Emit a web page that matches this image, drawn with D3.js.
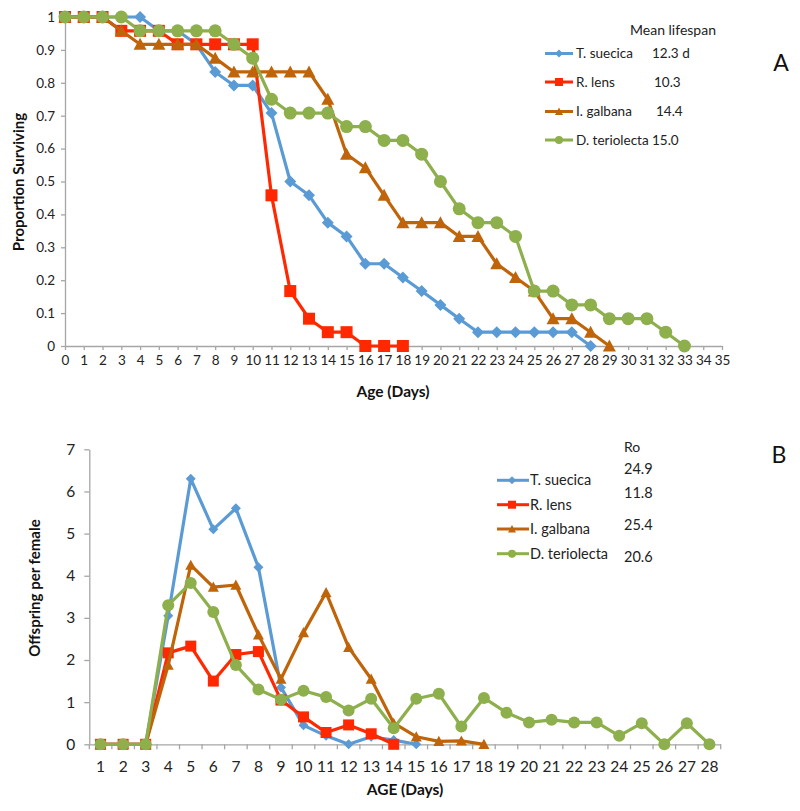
<!DOCTYPE html>
<html><head><meta charset="utf-8">
<script src="https://cdn.jsdelivr.net/npm/d3@7"></script>
<style>body{margin:0;background:#fff}svg{display:block;font-family:Lato,"Open Sans",sans-serif}</style>
</head><body>
<svg id="c" width="800" height="811"></svg>
<script>
// ---------- DATA ----------
const speciesNames = ["T. suecica", "R. lens", "I. galbana", "D. teriolecta"];
const meanLifespan = ["12.3 d", "10.3", "14.4", "15.0"];
const roValues = ["24.9", "11.8", "25.4", "20.6"];
const xTicksA = [0,1,2,3,4,5,6,7,8,9,10,11,12,13,14,15,16,17,18,19,20,21,22,23,24,25,26,27,28,29,30,31,32,33,34,35];
const yTicksA = [0,0.1,0.2,0.3,0.4,0.5,0.6,0.7,0.8,0.9,1];
const yTickLabelsA = ["0","0.1","0.2","0.3","0.4","0.5","0.6","0.7","0.8","0.9","1"];
// Survival (panel A), value for day 0,1,2,...
const survTsuecica = [1,1,1,1,1,0.958,0.958,0.917,0.833,0.792,0.792,0.708,0.5,0.458,0.375,0.333,0.25,0.25,0.208,0.167,0.125,0.083,0.042,0.042,0.042,0.042,0.042,0.042,0];
const survRlens = [1,1,1,0.958,0.958,0.958,0.917,0.917,0.917,0.917,0.917,0.458,0.167,0.083,0.042,0.042,0,0,0];
const survIgalbana = [1,1,1,0.958,0.917,0.917,0.917,0.917,0.875,0.833,0.833,0.833,0.833,0.833,0.75,0.583,0.542,0.458,0.375,0.375,0.375,0.333,0.333,0.25,0.208,0.167,0.083,0.083,0.042,0];
const survDteriolecta = [1,1,1,1,0.958,0.958,0.958,0.958,0.958,0.917,0.875,0.75,0.708,0.708,0.708,0.667,0.667,0.625,0.625,0.583,0.5,0.417,0.375,0.375,0.333,0.167,0.167,0.125,0.125,0.083,0.083,0.083,0.042,0];
// Fecundity (panel B), value for day 1,2,3,...
const daysB = ["1","2","3","4","5","6","7","8","9","10","11","12","13","14","15","16","17","18","19","20","21","22","23","24","25","26","27","28"];
const yTicksB = [0,1,2,3,4,5,6,7];
const offTsuecica = [0,0,0,3.05,6.3,5.1,5.6,4.2,1.35,0.45,0.2,0,0.18,0.1,0];
const offRlens = [0,0,0,2.17,2.33,1.5,2.13,2.2,1.05,0.65,0.28,0.46,0.25,0];
const offIgalbana = [0,0,0,1.88,4.25,3.73,3.78,2.6,1.55,2.65,3.6,2.3,1.55,0.5,0.18,0.07,0.08,0];
const offDteriolecta = [0,0,0,3.3,3.83,3.14,1.88,1.3,1.06,1.27,1.12,0.8,1.08,0.38,1.08,1.2,0.42,1.1,0.75,0.52,0.58,0.52,0.52,0.2,0.5,0,0.5,0];

// ---------- STYLE ----------
const colors = ["#5B9BD5", "#FF2800", "#C0640A", "#8DAF4C"];
const shapes = ["diamond", "square", "triangle", "circle"];
const axisColor = "#A6A6A6";
const svg = d3.select("#c");

function markerPath(shape, s) {
  const h = s / 2;
  if (shape === "diamond") return `M0,${-h}L${h},0L0,${h}L${-h},0Z`;
  if (shape === "square") return `M${-h},${-h}H${h}V${h}H${-h}Z`;
  if (shape === "triangle") return `M0,${-h}L${h},${h*0.85}L${-h},${h*0.85}Z`;
  return d3.symbol(d3.symbolCircle, Math.PI * h * h)();
}
const markerSizeA = [12, 12, 13, 13];
const markerSizeB = [10, 11, 11, 12];

function drawSeries(g, pts, i, sizes) {
  g.append("path").datum(pts)
    .attr("fill", "none").attr("stroke", colors[i]).attr("stroke-width", 3.2)
    .attr("stroke-linejoin", "round")
    .attr("d", d3.line().x(d => d[0]).y(d => d[1]));
  g.selectAll(null).data(pts).enter().append("path")
    .attr("transform", d => `translate(${d[0]},${d[1]})`)
    .attr("d", markerPath(shapes[i], sizes[i]))
    .attr("fill", colors[i]);
}

// ---------- PANEL A ----------
const xA = d3.scaleLinear().domain([0, 35]).range([65, 722]);
const yA = d3.scaleLinear().domain([0, 1]).range([346, 17]);
const gA = svg.append("g");
const axA = gA.append("g").attr("transform", "translate(0,346)")
  .call(d3.axisBottom(xA).tickValues(xTicksA).tickFormat(d3.format("d")).tickSize(4).tickSizeOuter(0));
const ayA = gA.append("g").attr("transform", "translate(65,0)")
  .call(d3.axisLeft(yA).tickValues(yTicksA).tickFormat((d, i) => yTickLabelsA[i]).tickSize(4).tickSizeOuter(0));
[axA, ayA].forEach(a => {
  a.selectAll("path,line").attr("stroke", axisColor).attr("stroke-width", 1.3);
  a.selectAll("text").attr("fill", "#222").attr("font-family", "Lato");
});
axA.selectAll("text").attr("font-size", 13.5).attr("dy", "0.95em").attr("y", 6);
ayA.selectAll("text").attr("font-size", 13.5).attr("x", -10);

const survSeries = [survTsuecica, survRlens, survIgalbana, survDteriolecta];
survSeries.forEach((s, i) => {
  drawSeries(gA.append("g"), s.map((v, d) => [xA(d), yA(v)]), i, markerSizeA);
});

gA.append("text").attr("x", 393).attr("y", 397).attr("text-anchor", "middle")
  .attr("font-weight", "bold").attr("font-size", 15.5).attr("fill", "#111").text("Age (Days)");
gA.append("text").attr("transform", "translate(24,182) rotate(-90)").attr("text-anchor", "middle")
  .attr("font-weight", "bold").attr("font-size", 15).attr("fill", "#111").text("Proportion Surviving");

// Legend A
gA.append("text").attr("x", 673).attr("y", 35).attr("text-anchor", "middle")
  .attr("font-size", 14).attr("fill", "#222").text("Mean lifespan");
const rowYA = [53.5, 82, 111.5, 140];
const valXA = [652, 654, 656, 652];
speciesNames.forEach((n, i) => {
  const y = rowYA[i];
  gA.append("line").attr("x1", 545).attr("x2", 573).attr("y1", y).attr("y2", y)
    .attr("stroke", colors[i]).attr("stroke-width", 3);
  gA.append("path").attr("transform", `translate(559,${y})`).attr("d", markerPath(shapes[i], 8)).attr("fill", colors[i]);
  gA.append("text").attr("x", 576).attr("y", y + 4.5).attr("font-size", 13.5).attr("fill", "#222").text(n);
  gA.append("text").attr("x", valXA[i]).attr("y", y + 4.5).attr("font-size", 13.5).attr("fill", "#222").text(meanLifespan[i]);
});
gA.append("text").attr("x", 781).attr("y", 71).attr("text-anchor", "middle").attr("font-size", 23).attr("fill", "#111").text("A");

// ---------- PANEL B ----------
const xB = d3.scaleBand().domain(daysB).range([89.3, 720.7]);
const yB = d3.scaleLinear().domain([0, 7]).range([744.3, 449.3]);
const gB = svg.append("g");
const axB = gB.append("g").attr("transform", "translate(0,744.3)")
  .call(d3.axisBottom(xB).tickSize(0).tickSizeOuter(0));
axB.selectAll("line.bnd").data(d3.range(daysB.length + 1)).enter().append("line").attr("class", "bnd")
  .attr("x1", k => 89.3 + k * xB.step()).attr("x2", k => 89.3 + k * xB.step()).attr("y1", 0).attr("y2", 5);
const ayB = gB.append("g").attr("transform", "translate(89.3,0)")
  .call(d3.axisLeft(yB).tickValues(yTicksB).tickFormat(d3.format("d")).tickSize(5).tickSizeOuter(0));
[axB, ayB].forEach(a => {
  a.selectAll("path,line").attr("stroke", axisColor).attr("stroke-width", 1.3);
  a.selectAll("text").attr("fill", "#222").attr("font-family", "Lato").attr("font-size", 15.5);
});
axB.selectAll("text").attr("y", 17).attr("dy", "0.71em");
ayB.selectAll("text").attr("x", -14);

const offSeries = [offTsuecica, offRlens, offIgalbana, offDteriolecta];
offSeries.forEach((s, i) => {
  drawSeries(gB.append("g"), s.map((v, k) => [xB(daysB[k]) + xB.bandwidth() / 2, yB(v)]), i, markerSizeB);
});

gB.append("text").attr("x", 405).attr("y", 795).attr("text-anchor", "middle")
  .attr("font-weight", "bold").attr("font-size", 15.5).attr("fill", "#111").text("AGE (Days)");
gB.append("text").attr("transform", "translate(40,588) rotate(-90)").attr("text-anchor", "middle")
  .attr("font-weight", "bold").attr("font-size", 15).attr("fill", "#111").text("Offspring per female");

// Legend B
const rowYB = [480.3, 504.7, 529, 553.7];
const roY = [469.3, 492.7, 524.7, 556.7];
gB.append("text").attr("x", 624).attr("y", 451.5).attr("font-size", 14).attr("fill", "#222").text("Ro");
speciesNames.forEach((n, i) => {
  const y = rowYB[i];
  gB.append("line").attr("x1", 497).attr("x2", 529).attr("y1", y).attr("y2", y)
    .attr("stroke", colors[i]).attr("stroke-width", 3);
  gB.append("path").attr("transform", `translate(512,${y})`).attr("d", markerPath(shapes[i], 8)).attr("fill", colors[i]);
  gB.append("text").attr("x", 530).attr("y", y + 5).attr("font-size", 14.5).attr("fill", "#222").text(n);
  gB.append("text").attr("x", 624).attr("y", roY[i] + 5).attr("font-size", 14.5).attr("fill", "#222").text(roValues[i]);
});
gB.append("text").attr("x", 779).attr("y", 463).attr("text-anchor", "middle").attr("font-size", 23).attr("fill", "#111").text("B");
</script>
</body></html>
